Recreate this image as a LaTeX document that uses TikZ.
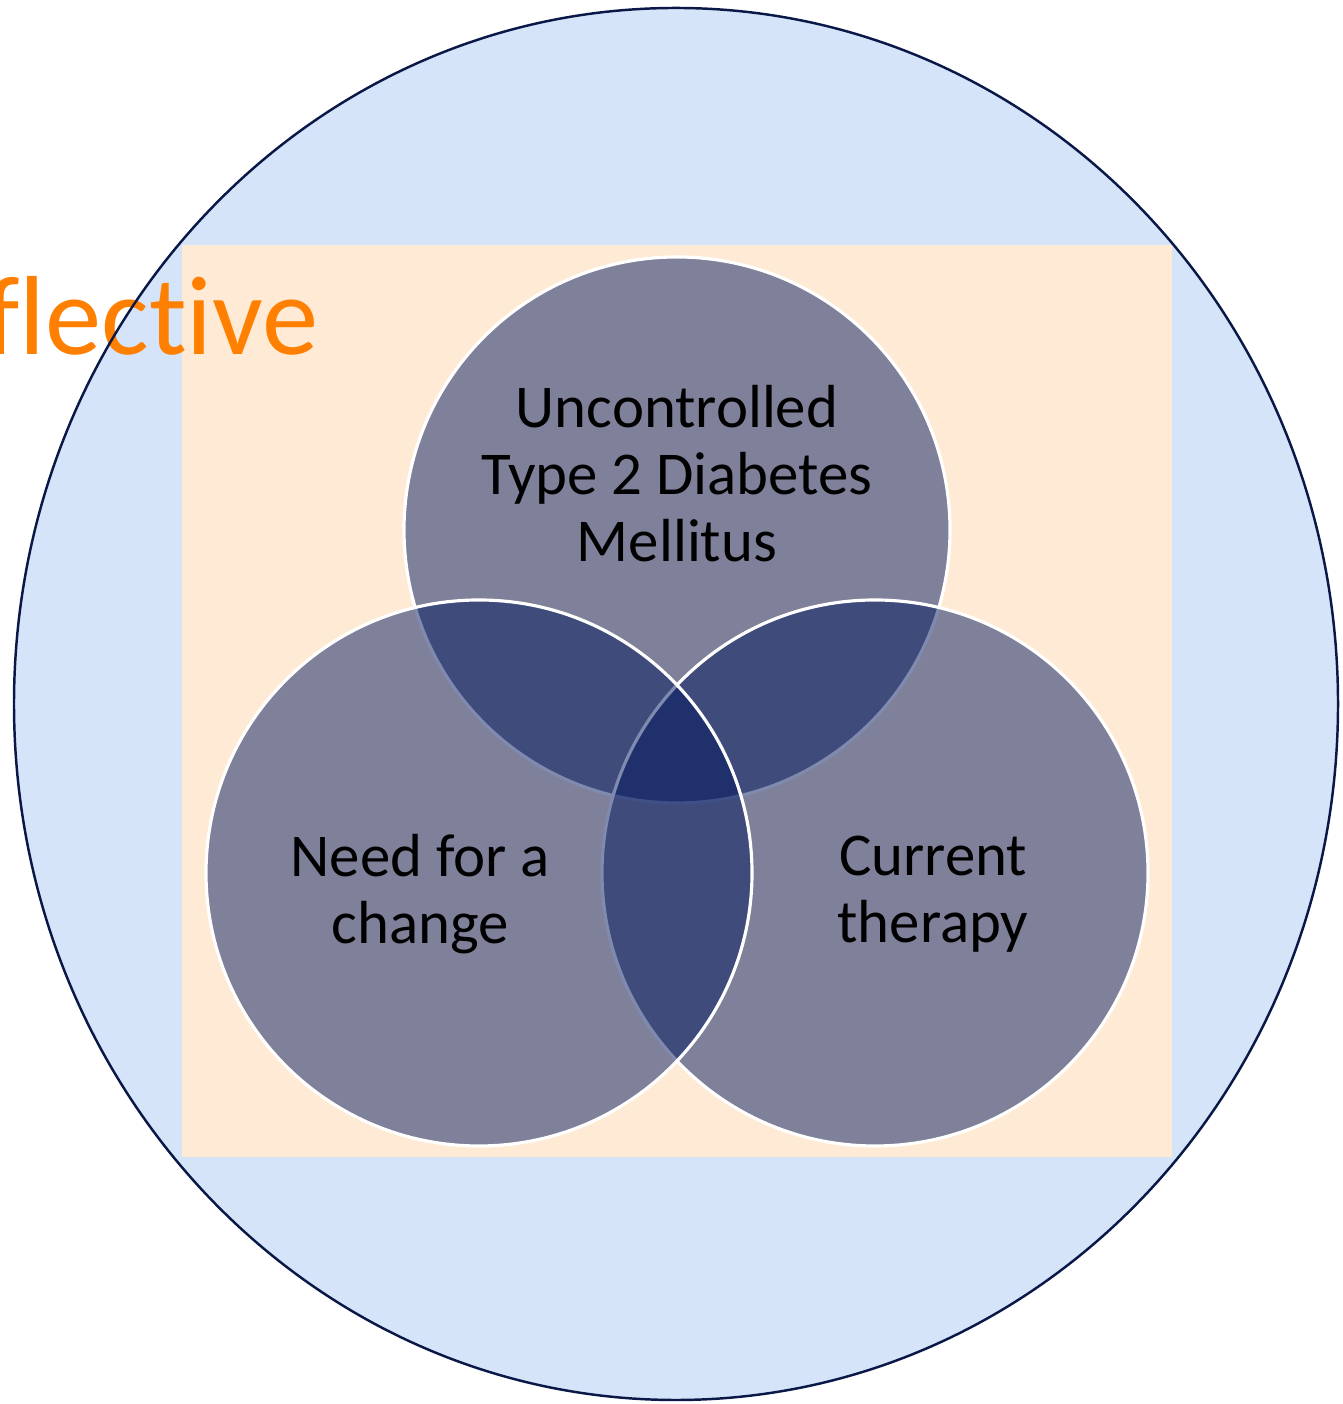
\documentclass[tikz,border=0pt]{standalone}
\usepackage{fontspec}
\setmainfont{Carlito}[Ligatures={NoCommon}]
\usetikzlibrary{positioning}
\definecolor{skyfill}{RGB}{213,228,249}
\definecolor{sandfill}{RGB}{255,235,213}
\definecolor{rimnavy}{RGB}{10,24,72}
\definecolor{vennnavy}{RGB}{0,23,95}
\definecolor{reforange}{RGB}{255,128,0}
\tikzset{
  venn/.style={circle, minimum size=5.46cm, inner sep=0pt, draw=white, line width=0.9pt, fill=vennnavy, fill opacity=0.5},
  vtext/.style={align=center, inner sep=0pt, font=\fontsize{17.3}{19.1}\selectfont, text=black},
  rim/.style={draw=rimnavy, line width=0.7pt},
}

\begin{document}
\begin{tikzpicture}
  \useasboundingbox (0,0) rectangle (13.42,14.04);
  % backdrop
  \fill[skyfill] (6.76,7.00) ellipse [x radius=6.62, y radius=6.96];
  \fill[sandfill] (1.82,2.47) rectangle (11.72,11.59);
  \node[anchor=base east, inner sep=0pt, text=reforange, font=\fontsize{32}{36}\selectfont] (refl) at (3.19,10.49) {flective};
  \draw[rim] (6.76,7.00) ellipse [x radius=6.62, y radius=6.96];
  % the three sets
  \node[venn] (topc) at (6.77,8.74) {};
  \node[venn] (rightc) at (8.75,5.31) {};
  \node[venn] (leftc) at (4.79,5.31) {};
  \node[vtext] (toptxt) at (6.77,9.30) {Uncontrolled\\Type 2 Diabetes\\Mellitus};
  \node[vtext] (lefttxt) at (4.20,5.10) {Need for a\\change};
  \node[vtext] (righttxt) at (9.33,5.10) {Current\\therapy};
\end{tikzpicture}
\end{document}
